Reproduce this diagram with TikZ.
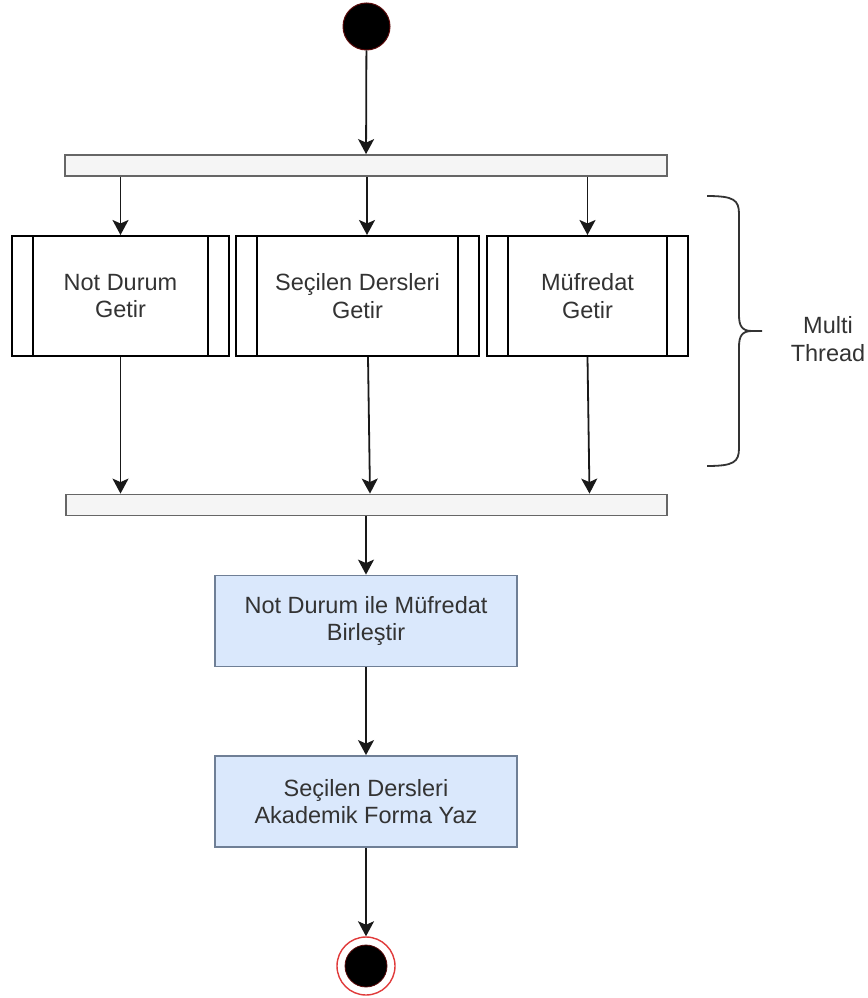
\documentclass[tikz,border=0pt]{standalone}
\usepackage{fontspec}
\setmainfont{Liberation Sans}
\usetikzlibrary{arrows.meta}
\definecolor{txt}{HTML}{333333}
\definecolor{barfill}{HTML}{F5F5F5}
\definecolor{barline}{HTML}{666666}
\definecolor{bluefill}{HTML}{DAE8FC}
\definecolor{blueline}{HTML}{6F7F96}
\definecolor{redline}{HTML}{E03A3A}
\definecolor{startrim}{HTML}{5A0A0A}
\begin{document}
\begin{tikzpicture}[x=1pt,y=-1pt,
  font=\fontsize{23.5}{27.5}\selectfont,
  arr/.style={draw=black!90, line width=1.8pt,
    -{Stealth[length=15pt,width=16pt,inset=3.5pt]}},
  forkbar/.style={draw=barline, fill=barfill, line width=1.8pt,
    minimum height=21pt, inner sep=0pt},
  subproc/.style={draw=black, line width=2pt, fill=white,
    minimum height=120pt, inner sep=0pt, text=txt, align=center,
    path picture={\draw[line width=2pt]
      ([xshift=21pt]path picture bounding box.north west) --
      ([xshift=21pt]path picture bounding box.south west)
      ([xshift=-21pt]path picture bounding box.north east) --
      ([xshift=-21pt]path picture bounding box.south east);}},
  actbox/.style={draw=blueline, fill=bluefill, line width=1.8pt,
    minimum width=302pt, minimum height=91pt, inner sep=0pt,
    text=txt, align=center},
  brace/.style={draw=black!80, line width=1.8pt}
]
\useasboundingbox (0,0) rectangle (867,998);

% initial state
\node[circle, fill=black, draw=startrim, line width=1pt,
      minimum size=47pt, inner sep=0pt] (start) at (366.5,26.5) {};

% fork bar
\node[forkbar, minimum width=602pt] (fork) at (366,165.5) {};

% parallel activities
\node[subproc, minimum width=217pt] (p1) at (120.5,296) {Not Durum\\Getir};
\node[subproc, minimum width=243pt] (p2) at (357.5,296) {Seçilen Dersleri\\Getir};
\node[subproc, minimum width=201pt] (p3) at (587.5,296) {Müfredat\\Getir};

% join bar
\node[forkbar, minimum width=601pt] (join) at (366.5,505) {};

% sequential activities
\node[actbox] (merge) at (366,621) {Not Durum ile Müfredat\\Birleştir};
\node[actbox] (write) at (366,801.5) {Seçilen Dersleri\\Akademik Forma Yaz};

% final state
\node[circle, draw=redline, line width=1.4pt, fill=white,
      minimum size=58pt, inner sep=0pt] (end) at (366,966) {};
\node[circle, fill=black, draw=startrim, line width=0.8pt,
      minimum size=42pt, inner sep=0pt] (endin) at (end) {};

% control flow
\draw[arr] (start) -- (fork);
\draw[arr] (fork.south -| p1.north) -- (p1.north);
\draw[arr] ([xshift=1pt]fork.south) -- ([xshift=1pt]fork.south |- p2.north);
\draw[arr] (fork.south -| p3.north) -- (p3.north);
\draw[arr] (p1.south) -- (p1.south |- join.north);
\draw[arr] ([xshift=10.5pt]p2.south) -- ([xshift=12.5pt]p2.south |- join.north);
\draw[arr] (p3.south) -- ([xshift=2pt]p3.south |- join.north);
\draw[arr] (join.south -| merge.north) -- (merge.north);
\draw[arr] (merge) -- (write);
\draw[arr] (write) -- (end);

% curly brace around the parallel section
\coordinate (btop) at (707,196);
\coordinate (btip) at (762,331);
\coordinate (bbot) at (707,466);
\draw[brace] (btop) .. controls (734,196) and (739,200) .. (739,214)
  -- (739,315) .. controls (739,326) and (742,331) .. (752,331) -- (btip);
\draw[brace] (752,331) .. controls (742,331) and (739,336) .. (739,347)
  -- (739,448) .. controls (739,462) and (734,466) .. (bbot);

\node[text=txt, align=center] (mt) at (828,339) {Multi\\Thread};
\end{tikzpicture}
\end{document}
